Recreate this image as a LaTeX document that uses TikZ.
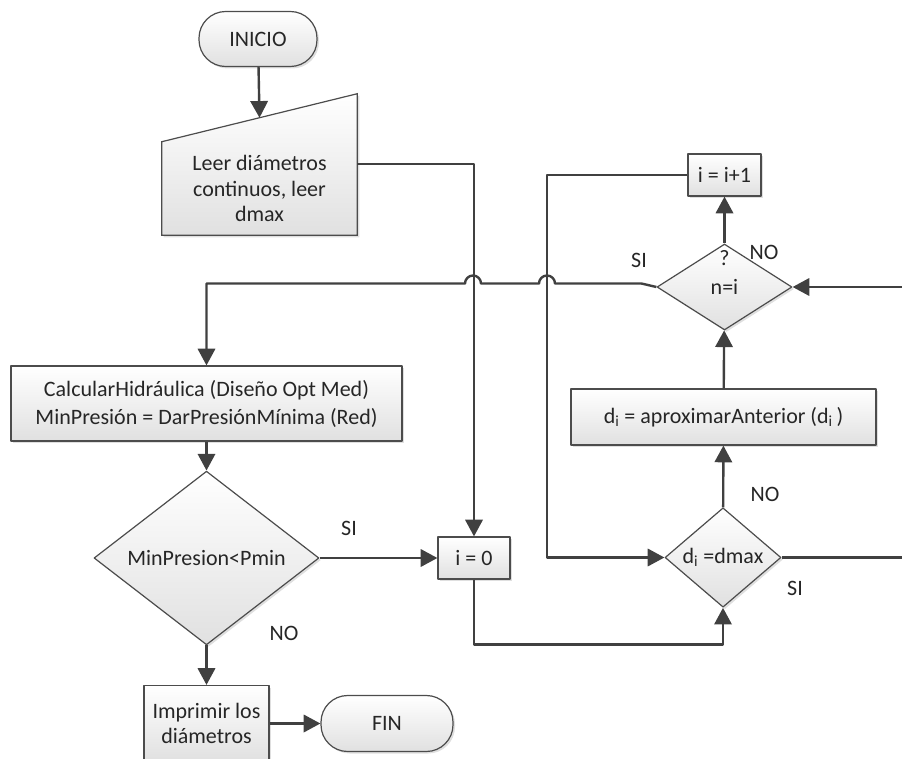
\documentclass[tikz,border=0pt]{standalone}
\usepackage{fontspec}
\setmainfont{Carlito}
\usetikzlibrary{arrows.meta,shapes.geometric,shadows,calc,backgrounds}

\begin{document}
\begin{tikzpicture}[x=0.75pt,y=-0.75pt, line join=round, >={Triangle[length=12.5pt,width=13pt]},
  font=\fontsize{16.5}{19}\selectfont,
  caja/.style={draw=black!70, line width=0.9pt, top color=white, bottom color=black!12,
    drop shadow={shadow xshift=1.5pt, shadow yshift=-1.5pt, opacity=0.25},
    inner sep=0pt, align=center, text=black!85},
  term/.style={caja, rounded corners=20pt},
  decision/.style={caja, diamond},
  flecha/.style={->, draw=black!75, line width=1.8pt},
  linea/.style={draw=black!75, line width=1.8pt},
  etiqueta/.style={text=black!85}]
	\useasboundingbox (0,0) rectangle (902,759);
	% nodos
	\node[term, minimum width=88.5pt, minimum height=41.25pt] (inicio) at (258,39) {INICIO};
	\node[align=center, inner sep=0pt, minimum width=146.25pt, minimum height=69.75pt, text=black!85] (leer) at (259.5,188.5) {Leer diámetros\\continuos, leer\\dmax};
	\begin{scope}[on background layer]
	\draw[caja] (leer.south west) -- (leer.south east) -- ($(leer.north east)+(0,-48)$) -- (leer.north west) -- cycle;
	\end{scope}
	\node[caja, minimum width=54.75pt, minimum height=31.5pt] (inc) at (724.5,175) {i = i+1};
	\node[decision, minimum width=101.25pt, minimum height=64.5pt,
	  label={[anchor=north, yshift=-5pt, inner sep=0pt, text=black!85]north:?}] (cmpn) at (724.5,287) {n=i};
	\node[caja, minimum width=228.75pt, minimum height=42pt] (aprox) at (723.5,417) {d\textsubscript{i} = aproximarAnterior (d\textsubscript{i}\,)};
	\node[decision, minimum width=87pt, minimum height=72.75pt] (cmpd) at (723,557.5) {d\textsubscript{i} =dmax};
	\node[caja, minimum width=54pt, minimum height=31.5pt] (ini) at (474,558) {i = 0};
	\node[caja, minimum width=293.25pt, minimum height=56.25pt] (calc) at (206.5,403.5) {CalcularHidráulica (Diseño Opt Med)\\[2pt]MinPresión = DarPresiónMínima (Red)};
	\node[decision, minimum width=168.75pt, minimum height=94.5pt] (cmpp) at (206.5,558) {MinPresion<Pmin};
	\node[caja, minimum width=93.75pt, minimum height=57pt] (impr) at (206.5,723.5) {Imprimir los\\diámetros};
	\node[term, minimum width=99pt, minimum height=42pt] (fin) at (387,723.5) {FIN};
	\coordinate (leerin) at ($(leer.north west)!0.5!(leer.north east)+(0,-24)$);
	\coordinate (entn) at (902,287);
	\coordinate (sald) at (902,557.5);
	\coordinate (bucle) at (547,557.5);
	% conectores
	\draw[flecha] (inicio) -- (leerin);
	\draw[flecha] ($(leer.north east)+(0,22)$) -| (ini);
	\draw[flecha] (inc.west) -| (bucle) -- (cmpd);
	\draw[flecha] (cmpn) -- (inc);
	\draw[flecha] (aprox) -- (cmpn);
	\draw[flecha] (cmpd) -- (aprox);
	\draw[flecha] (entn) -- (cmpn);
	\draw[linea] (cmpd) -- (sald);
	\draw[flecha] (cmpn.west) -- ++(-15,-3.5) -- (555,283.5) arc[start angle=0, end angle=180, radius=6pt]
	  -- (481,283.5) arc[start angle=0, end angle=180, radius=6pt] -| (calc);
	\draw[flecha] (calc) -- (cmpp);
	\draw[flecha] (cmpp) -- (ini);
	\draw[flecha] (cmpp) -- (impr);
	\draw[flecha] (ini.south) -- ++(0,65) -| (cmpd);
	\draw[flecha] (impr) -- (fin);
	% etiquetas
	\node[etiqueta] (si1) at (639,260) {SI};
	\node[etiqueta] (no1) at (764,252) {NO};
	\node[etiqueta] (no2) at (765,494) {NO};
	\node[etiqueta] (si2) at (795,588) {SI};
	\node[etiqueta] (si3) at (349,528) {SI};
	\node[etiqueta] (no3) at (284,633) {NO};
\end{tikzpicture}
\end{document}
